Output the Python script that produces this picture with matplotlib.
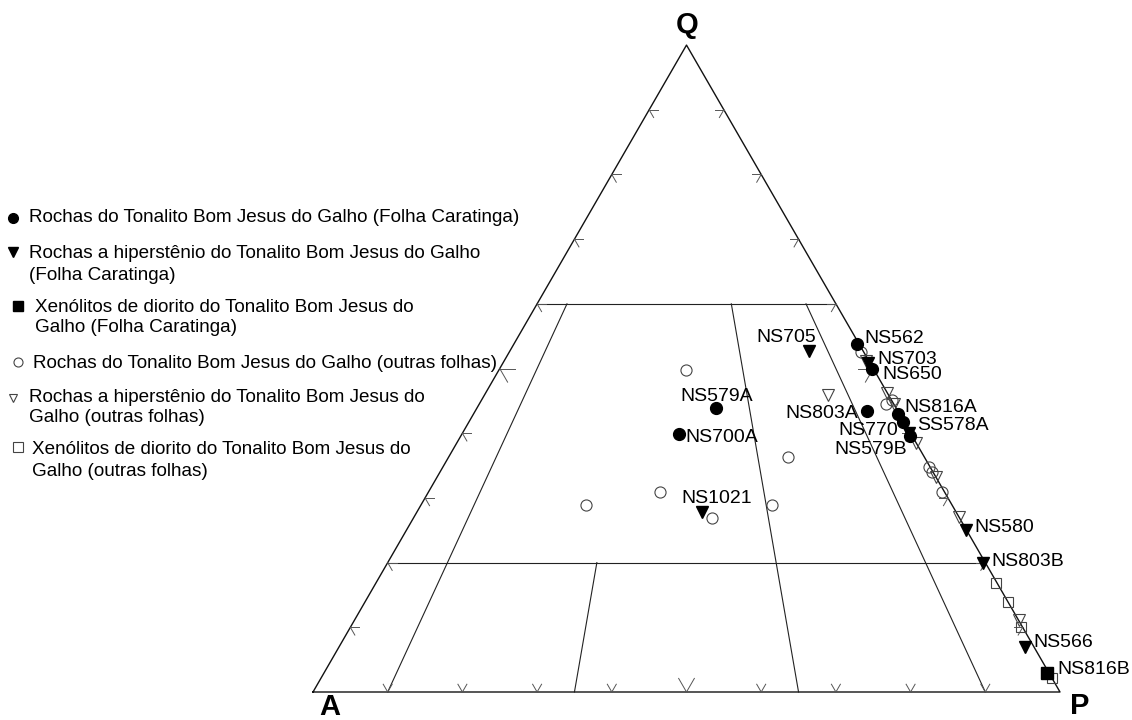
import numpy as np
import matplotlib.pyplot as plt

plt.rcParams["font.family"] = ["Liberation Sans", "DejaVu Sans"]

# modal compositions, percent (Q, A, P)
# Tonalito Bom Jesus do Galho, Folha Caratinga
circ_names = ["NS562", "NS650", "NS579A", "NS700A", "NS803A", "NS816A", "SS578A", "NS770"]
circ_q = [53.8, 49.9, 43.9, 39.9, 43.4, 43.0, 41.7, 39.6]
circ_a = [0.3, 0.2, 24.1, 31.1, 4.1, 0.2, 0.2, 0.3]
circ_p = [45.9, 49.9, 32.0, 29.0, 52.5, 56.8, 58.1, 60.1]

# hypersthene rocks, Folha Caratinga
hyp_names = ["NS705", "NS703", "NS579B", "NS1021", "NS580", "NS803B", "NS566"]
hyp_q = [52.7, 50.9, 40.1, 27.8, 25.0, 19.9, 7.0]
hyp_a = [7.3, 0.2, 0.1, 34.0, 0.1, 0.4, 1.2]
hyp_p = [40.0, 48.9, 59.8, 38.2, 74.9, 79.7, 91.8]

# diorite xenoliths, Folha Caratinga
xen_names = ["NS816B"]
xen_q = [2.9]
xen_a = [0.3]
xen_p = [96.8]

# other sheets (no sample names shown)
oc_q = [52.6, 44.5, 45.1, 34.8, 34.0, 30.9, 49.8, 36.3, 30.9, 28.9, 26.9, 28.9]
oc_a = [0.3, 1.0, 0.0, 0.1, 0.2, 0.3, 25.2, 18.3, 38.1, 49.0, 33.1, 24.1]
oc_p = [47.1, 54.5, 54.9, 65.1, 65.8, 68.8, 25.0, 45.4, 31.0, 22.1, 40.0, 47.0]

ot_q = [46.2, 44.5, 38.5, 33.2, 27.0, 11.1, 45.9, 51.2]
ot_a = [0.1, 0.0, 0.0, 0.0, 0.0, 0.0, 8.1, 0.4]
ot_p = [53.7, 55.5, 61.5, 66.8, 73.0, 88.9, 46.0, 48.4]

os_q = [16.8, 13.9, 10.0, 2.2]
os_a = [0.2, 0.0, 0.2, 0.0]
os_p = [83.0, 86.1, 89.8, 97.8]

legend_labels = [
    ["Rochas do Tonalito Bom Jesus do Galho (Folha Caratinga)"],
    ["Rochas a hiperstênio do Tonalito Bom Jesus do Galho", "(Folha Caratinga)"],
    ["Xenólitos de diorito do Tonalito Bom Jesus do", "Galho (Folha Caratinga)"],
    ["Rochas do Tonalito Bom Jesus do Galho (outras folhas)"],
    ["Rochas a hiperstênio do Tonalito Bom Jesus do", "Galho (outras folhas)"],
    ["Xenólitos de diorito do Tonalito Bom Jesus do", "Galho (outras folhas)"],
]

# label offsets in pixels from the marker: dx, dy (down), alignment
label_pos = {
    "NS562": (8, -8, "left"), "NS703": (9, -6, "left"), "NS650": (10, 3, "left"),
    "NS816A": (6, -9, "left"), "SS578A": (14, 1, "left"), "NS770": (-12, -8, "right"),
    "NS579B": (-2, 14, "right"), "NS803A": (-9, 0, "right"), "NS705": (7, -16, "right"),
    "NS579A": (1, -14, "center"), "NS700A": (7, 1, "left"), "NS1021": (15, -16, "center"),
    "NS580": (8, -5, "left"), "NS803B": (9, -4, "left"), "NS566": (8, -7, "left"),
    "NS816B": (10, -6, "left"),
}

W, H = 1132, 720
A_X, A_Y, SIDE = 313, 692, 747
R3 = np.sqrt(3) / 2


def to_xy(q, a, p):
    q, a, p = (np.asarray(v, float) for v in (q, a, p))
    tot = q + a + p
    return p / tot + 0.5 * q / tot, R3 * q / tot


def fig_xy(px, py):
    return px / W, 1 - py / H


fig = plt.figure(figsize=(W / 100, H / 100), dpi=100)
ax = fig.add_axes([0, 0, 1, 1])
ax.set_xlim(-A_X / SIDE, (W - A_X) / SIDE)
ax.set_ylim((A_Y - H) / SIDE, A_Y / SIDE)
ax.axis("off")

line_kw = dict(color="#222222", lw=0.8, zorder=1)

# outline
x, y = to_xy([0, 0, 100, 0], [100, 0, 0, 100], [0, 100, 0, 0])
ax.plot(x, y, color="#111111", lw=1.0, zorder=1)

# Streckeisen field boundaries
for qv in (60, 20):
    x, y = to_xy([qv, qv], [100 - qv, 0], [0, 100 - qv])
    ax.plot(x, y, **line_kw)
for ratio, qtop in ((0.10, 60), (0.35, 20), (0.65, 60), (0.90, 60)):
    rest = 100 - qtop
    x, y = to_xy([qtop, 0], [rest * (1 - ratio), 100 * (1 - ratio)], [rest * ratio, 100 * ratio])
    ax.plot(x, y, **line_kw)

# ternary ticks every 10 %
tick_kw = dict(color="#555555", lw=0.7, zorder=1)
for i in range(1, 10):
    length = 0.021 if i == 5 else 0.012
    f = i * 10
    sides = [
        (to_xy(f, 100 - f, 0), [(1, 0), (0.5, -R3)]),
        (to_xy(f, 0, 100 - f), [(-1, 0), (-0.5, -R3)]),
        (to_xy(0, 100 - f, f), [(-0.5, R3), (0.5, R3)]),
    ]
    for (x0, y0), dirs in sides:
        for dx, dy in dirs:
            ax.plot([x0, x0 + dx * length], [y0, y0 + dy * length], **tick_kw)

# data
open_kw = dict(ls="none", mfc="none", mec="#444444", mew=0.8, zorder=3)
x, y = to_xy(oc_q, oc_a, oc_p)
ax.plot(x, y, marker="o", ms=8, **open_kw)
x, y = to_xy(ot_q, ot_a, ot_p)
ax.plot(x, y, marker="v", ms=8, **open_kw)
x, y = to_xy(os_q, os_a, os_p)
ax.plot(x, y, marker="s", ms=7.5, **open_kw)

filled = [
    (circ_names, circ_q, circ_a, circ_p, "o", 8.5),
    (hyp_names, hyp_q, hyp_a, hyp_p, "v", 8.5),
    (xen_names, xen_q, xen_a, xen_p, "s", 8),
]
for names, q, a, p, mk, ms in filled:
    x, y = to_xy(q, a, p)
    ax.plot(x, y, ls="none", marker=mk, ms=ms, color="black", zorder=4)
    for name, xi, yi in zip(names, x, y):
        dx, dy, ha = label_pos[name]
        ax.annotate(name, (xi, yi), xytext=(dx, -(dy + 7)), textcoords="offset pixels",
                    ha=ha, va="baseline", fontsize=14, zorder=5)

# vertex letters
for letter, px, py in (("Q", 687, 33), ("A", 330, 715), ("P", 1080, 714)):
    fig.text(*fig_xy(px, py), letter, ha="center", va="baseline", fontsize=21, fontweight="bold")

# legend
leg_markers = [
    ("o", dict(color="black"), 7, 13, 218),
    ("v", dict(color="black"), 6.5, 13, 252),
    ("s", dict(color="black"), 6.5, 18, 306),
    ("o", dict(mfc="none", mec="#444444", mew=0.8), 6.5, 18, 362),
    ("v", dict(mfc="none", mec="#444444", mew=0.8), 6, 13, 398),
    ("s", dict(mfc="none", mec="#444444", mew=0.8), 6.5, 18, 447),
]
leg_text_x = [29, 29, 35, 33, 29, 32]
leg_text_y = [215, 252, 305, 362, 395, 448]
for (mk, style, ms, mx, my), lines, tx, ty in zip(leg_markers, legend_labels, leg_text_x, leg_text_y):
    fx, fy = fig_xy(mx, my)
    ax.plot([fx], [fy], marker=mk, ms=ms, ls="none", transform=fig.transFigure, clip_on=False, **style)
    for k, line in enumerate(lines):
        fig.text(*fig_xy(tx, ty + 21 * k + 6.5), line, ha="left", va="baseline", fontsize=13.6)

fig.savefig("out.png", dpi=100)
